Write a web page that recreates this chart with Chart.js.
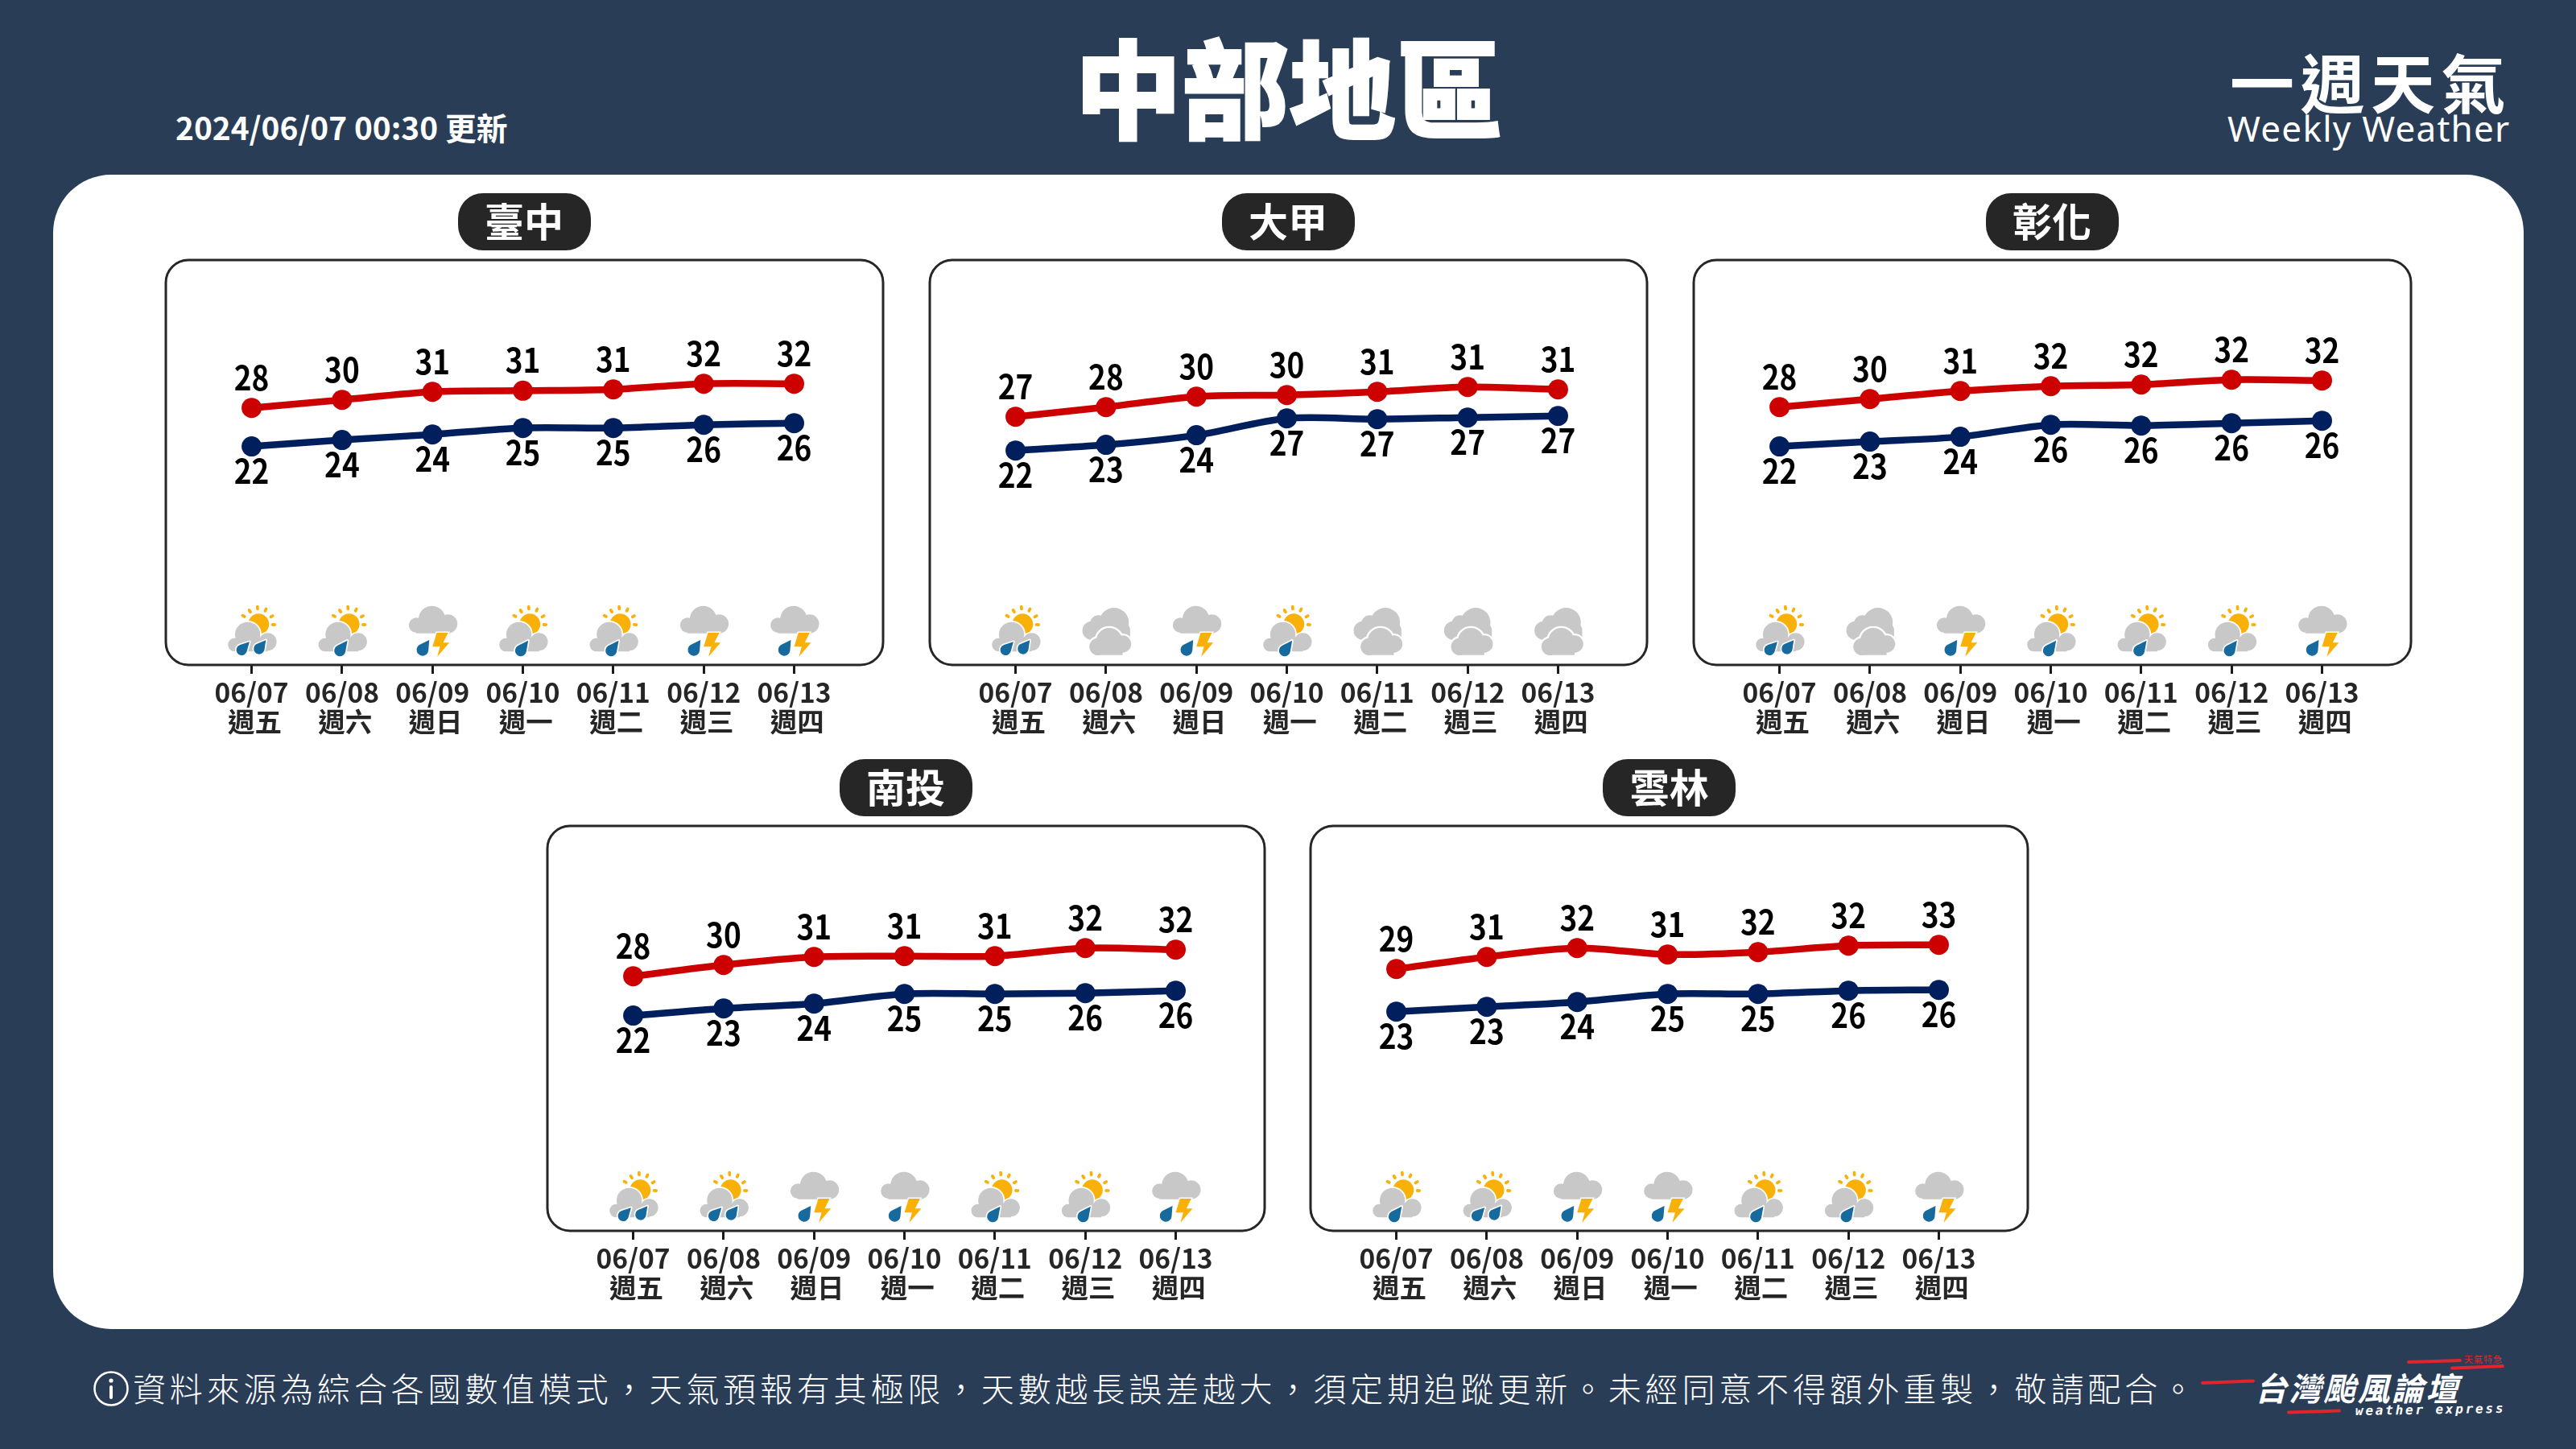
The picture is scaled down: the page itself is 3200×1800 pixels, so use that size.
<!DOCTYPE html>
<html lang="zh-Hant">
<head>
<meta charset="utf-8">
<title>中部地區 一週天氣</title>
<script src="https://cdn.jsdelivr.net/npm/chart.js@4"></script>
<style>
html,body{margin:0;padding:0;width:3200px;height:1800px;overflow:hidden;background:#2a3d57;font-family:"Noto Sans CJK TC","Noto Sans",sans-serif;color:#fff}
.abs{position:absolute;white-space:nowrap;line-height:1}
#panel{position:absolute;left:66px;top:217px;width:3069px;height:1434px;background:#fff;border-radius:72px}
canvas{position:absolute}
.pill{position:absolute;width:165px;height:71px;background:#262626;border-radius:31px;color:#fff;font-weight:700;font-size:49px;line-height:65px;text-align:center}
</style>
</head>
<body>
<div id="panel"></div>
<div class="abs" id="updated" style="left:218px;top:138px;font-size:38.8px;font-weight:700">2024/06/07 00:30 更新</div>
<div class="abs" id="title" style="left:1331px;top:38px;width:540px;text-align:center;font-size:133px;font-weight:900;-webkit-text-stroke:2px #fff">中部地區</div>
<div class="abs" id="weekly" style="left:2770px;top:59px;font-size:80px;font-weight:700;letter-spacing:7.5px">一週天氣</div>
<div class="abs" id="weeklyEn" style="left:2767px;top:137px;font-size:44px;letter-spacing:1.25px;font-family:'Noto Sans'">Weekly Weather</div>
<svg class="abs" style="left:115px;top:1702px" width="46" height="46"><circle cx="23" cy="23" r="20.5" fill="none" stroke="#fff" stroke-width="2.5"/><circle cx="23" cy="13" r="2.6" fill="#fff"/><rect x="21" y="19" width="4" height="17" rx="2" fill="#fff"/></svg>
<div class="abs" id="note" style="left:165px;top:1703px;font-size:41px;font-weight:300;letter-spacing:4.82px">資料來源為綜合各國數值模式，天氣預報有其極限，天數越長誤差越大，須定期追蹤更新。未經同意不得額外重製，敬請配合。</div>
<svg class="abs" style="left:0;top:0" width="3200" height="1800">
<g stroke="#e1252b" stroke-width="4" stroke-linecap="round">
<line x1="2736" y1="1718" x2="2799" y2="1715.5"/>
<line x1="2843" y1="1754.5" x2="2906" y2="1752.5"/>
<line x1="2992" y1="1692" x2="3056" y2="1690"/>
<line x1="3046" y1="1699.5" x2="3109" y2="1697"/>
</g></svg>
<div class="abs" id="logo" style="left:2801px;top:1703px;font-size:40px;font-weight:700;font-style:italic;letter-spacing:2.5px">台灣颱風論壇</div>
<div class="abs" id="logoEn" style="left:2926px;top:1745px;font-size:16px;font-weight:700;font-style:italic;font-family:'DejaVu Sans Mono';letter-spacing:2.8px;transform:rotate(-1deg);transform-origin:left bottom">weather express</div>
<div class="abs" id="logoTag" style="left:3061px;top:1683px;font-size:11px;color:#e1252b;letter-spacing:1px">天氣特急</div>

<script>
const dates = ['06/07','06/08','06/09','06/10','06/11','06/12','06/13'];
const weekdays = ['週五','週六','週日','週一','週二','週三','週四'];

const taichungHigh  = [28.36,29.61,30.86,31.03,31.23,32.11,32.11];
const taichungLow   = [22.36,23.36,24.23,25.23,25.23,25.73,25.98];
const taichungHighLabels = [28,30,31,31,31,32,32];
const taichungLowLabels  = [22,24,24,25,25,26,26];
const taichungIcons = ['S2','S1','T','S1','S1','T','T'];

const dajiaHigh  = [26.98,28.48,30.11,30.36,30.86,31.61,31.23];
const dajiaLow   = [21.73,22.61,24.11,26.73,26.61,26.86,27.11];
const dajiaHighLabels = [27,28,30,30,31,31,31];
const dajiaLowLabels  = [22,23,24,27,27,27,27];
const dajiaIcons = ['S2','C','T','S1','C','C','C'];

const changhuaHigh  = [28.48,29.73,30.98,31.73,31.98,32.73,32.61];
const changhuaLow   = [22.36,23.11,23.86,25.73,25.61,25.98,26.36];
const changhuaHighLabels = [28,30,31,32,32,32,32];
const changhuaLowLabels  = [22,23,24,26,26,26,26];
const changhuaIcons = ['S2','C','T','S1','S1','S1','T'];

const nantouHigh  = [27.98,29.73,30.98,31.11,31.11,32.36,32.11];
const nantouLow   = [21.86,22.98,23.73,25.23,25.23,25.36,25.73];
const nantouHighLabels = [28,30,31,31,31,32,32];
const nantouLowLabels  = [22,23,24,25,25,26,26];
const nantouIcons = ['S2','S2','T','T','S1','S1','T'];

const yunlinHigh  = [29.11,30.98,32.36,31.36,31.73,32.73,32.86];
const yunlinLow   = [22.48,23.23,23.98,25.23,25.23,25.73,25.86];
const yunlinHighLabels = [29,31,32,31,32,32,33];
const yunlinLowLabels  = [23,23,24,25,25,26,26];
const yunlinIcons = ['S1','S2','T','T','S1','S1','T'];

const stations = [
  {name:'臺中', left:205.5,  top:322.5,  high:taichungHigh, low:taichungLow, hl:taichungHighLabels, ll:taichungLowLabels, icons:taichungIcons},
  {name:'大甲', left:1154.5, top:322.5,  high:dajiaHigh,    low:dajiaLow,    hl:dajiaHighLabels,    ll:dajiaLowLabels,    icons:dajiaIcons},
  {name:'彰化', left:2103.5, top:322.5,  high:changhuaHigh, low:changhuaLow, hl:changhuaHighLabels, ll:changhuaLowLabels, icons:changhuaIcons},
  {name:'南投', left:679.6,  top:1025.5, high:nantouHigh,   low:nantouLow,   hl:nantouHighLabels,   ll:nantouLowLabels,   icons:nantouIcons},
  {name:'雲林', left:1628.2, top:1025.5, high:yunlinHigh,   low:yunlinLow,   hl:yunlinHighLabels,   ll:yunlinLowLabels,   icons:yunlinIcons}
];

const FRAME_W = 891, FRAME_H = 503.5, PAD = 10, AXIS_H = 112;
const X_MIN = -0.949, X_MAX = 6.984, Y_MIN = -11.6, Y_MAX = 51.34;
const RED = '#cc0000', NAVY = '#001f5c', INK = '#262626';
const GREY = '#c8c8c8', SUN = '#f9b10a', DROP = '#166a9d';

/* ---------- weather glyphs (units: 1/3 px, origin = tick on the frame bottom) ---------- */
function blob(ctx, circles, rects, fill, outline){
  const path = new Path2D();
  circles.forEach(c => { path.moveTo(c[0]+c[2],c[1]); path.arc(c[0],c[1],c[2],0,Math.PI*2); });
  rects.forEach(r => path.rect(r[0],r[1],r[2],r[3]));
  if(outline){
    ctx.strokeStyle='#fff'; ctx.lineWidth=outline; ctx.lineJoin='round';
    circles.forEach(c => { ctx.beginPath(); ctx.arc(c[0],c[1],c[2],0,Math.PI*2); ctx.stroke(); });
    rects.forEach(r => ctx.strokeRect(r[0],r[1],r[2],r[3]));
  }
  ctx.fillStyle=fill; ctx.fill(path,'nonzero');
}
function drop(ctx,cx,cy,r,tx,ty){
  const a=Math.atan2(ty-cy,tx-cx), d=Math.hypot(tx-cx,ty-cy), b=Math.acos(r/d);
  ctx.beginPath(); ctx.arc(cx,cy,r,a+b,a-b+Math.PI*2); ctx.lineTo(tx,ty); ctx.closePath();
  ctx.strokeStyle='#fff'; ctx.lineWidth=10; ctx.lineJoin='round'; ctx.stroke();
  ctx.fillStyle=DROP; ctx.fill();
}
function sunCloud(ctx){
  ctx.fillStyle=SUN; ctx.beginPath(); ctx.arc(26,-152,39,0,Math.PI*2); ctx.fill();
  ctx.strokeStyle=SUN; ctx.lineWidth=11; ctx.lineCap='round';
  [[-30,-182],[-7,-201],[22,-213],[52,-205],[75,-181],[82,-150]].forEach(p=>{
    const dx=p[0]-26, dy=p[1]+152, l=Math.hypot(dx,dy);
    ctx.beginPath(); ctx.moveTo(p[0]-dx/l*4,p[1]-dy/l*4); ctx.lineTo(p[0]+dx/l*4,p[1]+dy/l*4); ctx.stroke();
  });
  ctx.lineCap='butt';
  blob(ctx,[[-15,-113,47],[60,-86,33],[-63,-75,25]],[[-63,-98,123,48]],GREY,10);
}
const glyphs = {
  S2(ctx){ sunCloud(ctx); drop(ctx,-37,-56,20,-8,-86); drop(ctx,28,-60,20,53,-92); },
  S1(ctx){ sunCloud(ctx); drop(ctx,-8,-53,21,20,-91); },
  T(ctx){
    blob(ctx,[[-2,-170,50],[-60,-148,28],[58,-153,35]],[[-60,-170,118,52]],GREY,0);
    drop(ctx,-37,-56,22,-12,-93);
    const bolt=[[16,-120],[58,-120],[40,-83],[63,-83],[18,-31],[28,-68],[0,-68]];
    ctx.beginPath(); bolt.forEach((p,i)=> i?ctx.lineTo(p[0],p[1]):ctx.moveTo(p[0],p[1])); ctx.closePath();
    ctx.strokeStyle='#fff'; ctx.lineWidth=9; ctx.lineJoin='miter'; ctx.stroke();
    ctx.fillStyle=SUN; ctx.fill();
  },
  C(ctx){
    blob(ctx,[[30,-158,55],[-28,-153,32],[-53,-128,35],[57,-128,33]],[[-53,-135,143,37]],GREY,0);
    blob(ctx,[[12,-90,48],[-30,-68,32],[62,-78,32]],[[-30,-90,92,53]],GREY,14);
  }
};

/* ---------- plugins ---------- */
const framePlugin = {
  id:'frame',
  beforeDatasetsDraw(chart){
    const {ctx,chartArea:a}=chart;
    ctx.save();
    ctx.strokeStyle=INK; ctx.lineWidth=3;
    ctx.beginPath(); ctx.roundRect(a.left,a.top,a.right-a.left,a.bottom-a.top,28); ctx.stroke();
    ctx.restore();
  }
};
const iconPlugin = {
  id:'icons',
  beforeDatasetsDraw(chart,args,opts){
    const {ctx,chartArea:a,scales:{x}}=chart;
    opts.list.forEach((code,i)=>{
      ctx.save();
      ctx.translate(x.getPixelForValue(i),a.bottom);
      ctx.scale(1/3,1/3);
      glyphs[code](ctx);
      ctx.restore();
    });
  }
};
const valuePlugin = {
  id:'values',
  afterDatasetsDraw(chart,args,opts){
    const {ctx}=chart;
    ctx.save();
    ctx.font='700 42px "Noto Sans CJK TC"';
    ctx.textAlign='center'; ctx.textBaseline='middle';
    ctx.lineJoin='round';
    chart.data.datasets.forEach((ds,di)=>{
      const pts=chart.getDatasetMeta(di).data;
      const shift=opts.shift[di];
      opts.labels[di].forEach((t,i)=>{
        ctx.save();
        ctx.translate(pts[i].x,pts[i].y+shift);
        ctx.scale(0.88,1);
        ctx.strokeStyle='#fff'; ctx.lineWidth=6; ctx.strokeText(String(t),0,0);
        ctx.fillStyle='#000'; ctx.fillText(String(t),0,0);
        ctx.restore();
      });
    });
    ctx.restore();
  }
};

/* ---------- charts ---------- */
stations.forEach(s=>{
  const pill=document.createElement('div');
  pill.className='pill'; pill.textContent=s.name;
  pill.style.left=(s.left+FRAME_W/2-82.5)+'px';
  pill.style.top=(s.top-83)+'px';
  document.body.appendChild(pill);

  const cv=document.createElement('canvas');
  const w=FRAME_W+PAD*2, h=FRAME_H+PAD+AXIS_H;
  cv.width=w; cv.height=h;
  cv.style.left=(s.left-PAD)+'px'; cv.style.top=(s.top-PAD)+'px';
  cv.style.width=w+'px'; cv.style.height=h+'px';
  document.body.appendChild(cv);

  const series = (arr,color)=>({
    data:arr.map((v,i)=>({x:i,y:v})),
    borderColor:color, backgroundColor:color, borderWidth:8.5,
    pointRadius:12.5, pointBorderWidth:0, tension:0.3, clip:false
  });

  new Chart(cv,{
    type:'line',
    data:{datasets:[series(s.high,RED),series(s.low,NAVY)]},
    plugins:[framePlugin,iconPlugin,valuePlugin],
    options:{
      responsive:false, animation:false, devicePixelRatio:1,
      layout:{autoPadding:false,padding:{left:PAD,right:PAD,top:PAD,bottom:0}},
      plugins:{
        legend:{display:false}, tooltip:{enabled:false},
        icons:{list:s.icons},
        values:{labels:[s.hl,s.ll],shift:[-38,30]}
      },
      scales:{
        x:{
          type:'linear', min:X_MIN, max:X_MAX,
          afterBuildTicks(sc){ sc.ticks=dates.map((_,i)=>({value:i})); },
          afterFit(sc){ sc.height=AXIS_H; },
          border:{display:false},
          grid:{drawOnChartArea:false,drawTicks:true,tickLength:11,tickWidth:3,tickColor:'#1a1a1a'},
          ticks:{
            autoSkip:false,maxRotation:0,minRotation:0,padding:5,color:INK,
            font:{family:'"Noto Sans CJK TC"',size:33.5,weight:'700',lineHeight:1.08},
            callback(v){ return [dates[v],' '+weekdays[v]]; }
          }
        },
        y:{display:false,min:Y_MIN,max:Y_MAX}
      }
    }
  });
});
</script>
</body>
</html>
